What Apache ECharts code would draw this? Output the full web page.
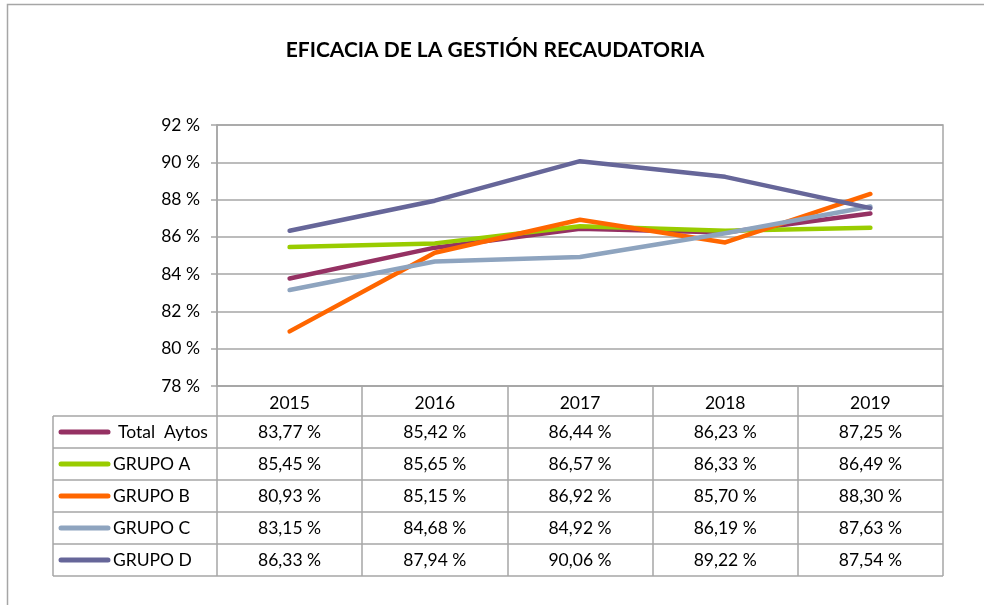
<!DOCTYPE html>
<html>
<head>
<meta charset="utf-8">
<script src="https://cdn.jsdelivr.net/npm/echarts@6/dist/echarts.min.js"></script>
<style>
  html, body { margin: 0; padding: 0; background: #fff; }
  #chart { width: 984px; height: 605px; }
</style>
</head>
<body>
<div id="chart"></div>
<script>
// Recaudación: eficacia por año y grupo de ayuntamientos (%)
const years = ['2015', '2016', '2017', '2018', '2019'];
const seriesNames = ['Total  Aytos', 'GRUPO A', 'GRUPO B', 'GRUPO C', 'GRUPO D'];
const totalAytos = [83.77, 85.42, 86.44, 86.23, 87.25];
const grupoA = [85.45, 85.65, 86.57, 86.33, 86.49];
const grupoB = [80.93, 85.15, 86.92, 85.70, 88.30];
const grupoC = [83.15, 84.68, 84.92, 86.19, 87.63];
const grupoD = [86.33, 87.94, 90.06, 89.22, 87.54];
const yTicks = [78, 80, 82, 84, 86, 88, 90, 92];

const seriesValues = [totalAytos, grupoA, grupoB, grupoC, grupoD];
const colors = ['#953163', '#99cc00', '#ff6600', '#8ea4bf', '#666699'];

const FONT = 'Lato, "Noto Sans", sans-serif';
const GRID_COLOR = '#a6a6a6';
const ROW_H = 32;
const HEADER_H = 30;
const TABLE_LEFT = 53;

const fmt = v => v.toFixed(2).replace('.', ',') + ' %';

const chart = echarts.init(document.getElementById('chart'));

chart.setOption({
  animation: false,
  backgroundColor: '#fff',
  title: {
    text: 'EFICACIA DE LA GESTIÓN RECAUDATORIA',
    left: 490,
    top: 35,
    textAlign: 'center',
    textStyle: { fontFamily: FONT, fontWeight: 'bold', fontSize: 21, color: '#000' }
  },
  grid: {
    left: 217, right: 41, top: 125, bottom: 219,
    show: true, borderColor: GRID_COLOR, borderWidth: 1.5, backgroundColor: 'transparent'
  },
  xAxis: {
    type: 'category',
    data: years,
    boundaryGap: true,
    axisLine: { show: true, lineStyle: { color: GRID_COLOR, width: 1.5 } },
    axisTick: { show: true, length: HEADER_H + ROW_H * seriesNames.length, lineStyle: { color: GRID_COLOR, width: 1.5 } },
    axisLabel: { color: '#000', fontFamily: FONT, fontSize: 17.5, margin: 8 }
  },
  yAxis: {
    type: 'value',
    min: yTicks[0],
    max: yTicks[yTicks.length - 1],
    interval: 2,
    axisLine: { show: true, lineStyle: { color: GRID_COLOR, width: 1.5 } },
    axisTick: { show: true, length: 6, lineStyle: { color: GRID_COLOR, width: 1.5 } },
    axisLabel: { color: '#000', fontFamily: FONT, fontSize: 17.5, margin: 17, formatter: v => v + ' %' },
    splitLine: { show: true, lineStyle: { color: GRID_COLOR, width: 1.5 } }
  },
  series: seriesNames.map((name, i) => ({
    name,
    type: 'line',
    data: seriesValues[i],
    symbol: 'none',
    lineStyle: { color: colors[i], width: 4.5, cap: 'round', join: 'round' },
    itemStyle: { color: colors[i] },
    z: 3
  }))
});

// Data table under the plot: row borders, legend keys and value cells
function drawTable() {
  const gridModel = chart.getModel().getComponent('grid', 0);
  const rect = gridModel.coordinateSystem.getRect();
  const top = rect.y + rect.height + HEADER_H;
  const right = rect.x + rect.width;
  const elements = [];

  // outer frame of the chart object
  elements.push({
    type: 'polyline', silent: true,
    shape: { points: [[7.5, 610], [7.5, 4.5], [990, 4.5]] },
    style: { stroke: GRID_COLOR, lineWidth: 1.5, fill: null }
  });

  for (let r = 0; r <= seriesNames.length; r++) {
    const y = top + r * ROW_H;
    elements.push({
      type: 'line', silent: true,
      shape: { x1: TABLE_LEFT, y1: y, x2: right, y2: y },
      style: { stroke: GRID_COLOR, lineWidth: 1.5 }
    });
  }
  elements.push({
    type: 'line', silent: true,
    shape: { x1: TABLE_LEFT, y1: top, x2: TABLE_LEFT, y2: top + ROW_H * seriesNames.length },
    style: { stroke: GRID_COLOR, lineWidth: 1.5 }
  });

  seriesNames.forEach((name, r) => {
    const cy = top + r * ROW_H + ROW_H / 2;
    elements.push({
      type: 'line', silent: true,
      shape: { x1: 61, y1: cy, x2: 108, y2: cy },
      style: { stroke: colors[r], lineWidth: 5, lineCap: 'round' }
    });
    elements.push({
      type: 'text', silent: true,
      x: r === 0 ? 118 : 113, y: cy,
      style: { text: name, fill: '#000', font: '17.5px ' + FONT, textAlign: 'left', textVerticalAlign: 'middle' }
    });
    seriesValues[r].forEach((v, c) => {
      const cx = chart.convertToPixel({ xAxisIndex: 0 }, c);
      elements.push({
        type: 'text', silent: true,
        x: cx, y: cy,
        style: { text: fmt(v), fill: '#000', font: '17.5px ' + FONT, textAlign: 'center', textVerticalAlign: 'middle' }
      });
    });
  });

  chart.setOption({ graphic: { elements } });
}

drawTable();
</script>
</body>
</html>
